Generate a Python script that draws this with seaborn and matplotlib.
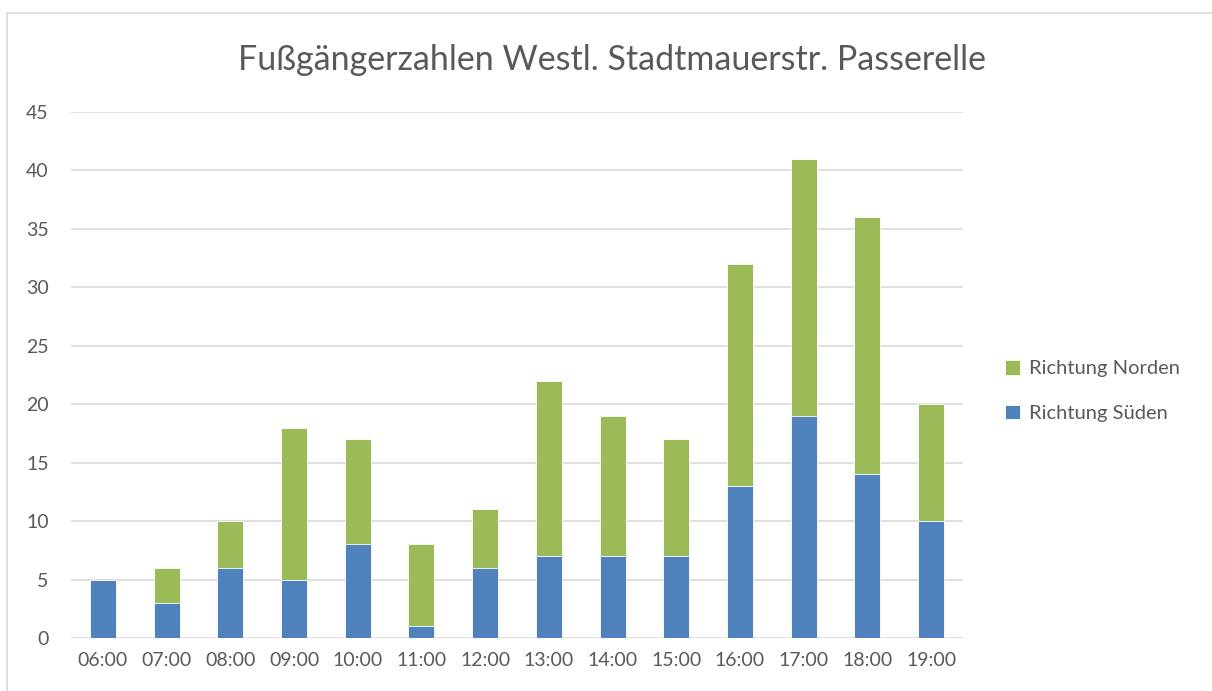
import seaborn as sns
import matplotlib.pyplot as plt
import pandas as pd
from matplotlib.lines import Line2D

hours = ["06:00", "07:00", "08:00", "09:00", "10:00", "11:00", "12:00",
         "13:00", "14:00", "15:00", "16:00", "17:00", "18:00", "19:00"]
sueden = [5, 3, 6, 5, 8, 1, 6, 7, 7, 7, 13, 19, 14, 10]
norden = [0, 3, 4, 13, 9, 7, 5, 15, 12, 10, 19, 22, 22, 10]

df = pd.DataFrame({"Zeit": hours, "Süden": sueden, "Norden": norden})
df["Gesamt"] = df["Süden"] + df["Norden"]

sns.set_style("white")
plt.rcParams["font.family"] = ["Lato", "DejaVu Sans"]
grey = "#595959"
blue = "#4F81BD"
green = "#9BBB59"

fig = plt.figure(figsize=(12.12, 6.91), dpi=100)
ax = fig.add_axes([71 / 1212, 1 - 638 / 691, (963 - 71) / 1212, (638 - 112) / 691])

# stacked bars: totals (green) behind, south (blue) in front
sns.barplot(data=df, x="Zeit", y="Gesamt", color=green, width=0.41,
            edgecolor="white", linewidth=0.6, saturation=1, ax=ax, label="Richtung Norden")
sns.barplot(data=df, x="Zeit", y="Süden", color=blue, width=0.41,
            edgecolor="white", linewidth=0.6, saturation=1, ax=ax, label="Richtung Süden")

ax.set_ylim(0, 45)
ax.set_xlim(-0.5, len(hours) - 0.5)
ax.set_yticks(range(0, 50, 5))
ax.yaxis.grid(True, color="#D9D9D9", linewidth=1.2)
ax.set_axisbelow(True)
for s in ax.spines.values():
    s.set_visible(False)
ax.set_xlabel("")
ax.set_ylabel("")
ax.tick_params(axis="both", length=0, labelsize=14, labelcolor=grey)
ax.tick_params(axis="y", pad=16)
ax.tick_params(axis="x", pad=10)

if ax.legend_:
    ax.legend_.remove()
handles, labels = ax.get_legend_handles_labels()
fig.legend(handles, labels, loc="center left", bbox_to_anchor=(987 / 1212, 1 - 391 / 691),
           frameon=False, fontsize=14.5, labelcolor=grey, handlelength=0.75, handleheight=0.75,
           handletextpad=0.45, labelspacing=1.35)

fig.text(0.505, 1 - 60 / 691, "Fußgängerzahlen Westl. Stadtmauerstr. Passerelle",
         ha="center", va="center", fontsize=24.5, color=grey)

# chart area border (left and top edges visible)
fig.add_artist(Line2D([7 / 1212, 7 / 1212], [0, 1 - 13 / 691], color="#D9D9D9", linewidth=1.2))
fig.add_artist(Line2D([7 / 1212, 1], [1 - 13 / 691, 1 - 13 / 691], color="#D9D9D9", linewidth=1.2))

plt.savefig("out.png", dpi=100)
plt.close()
